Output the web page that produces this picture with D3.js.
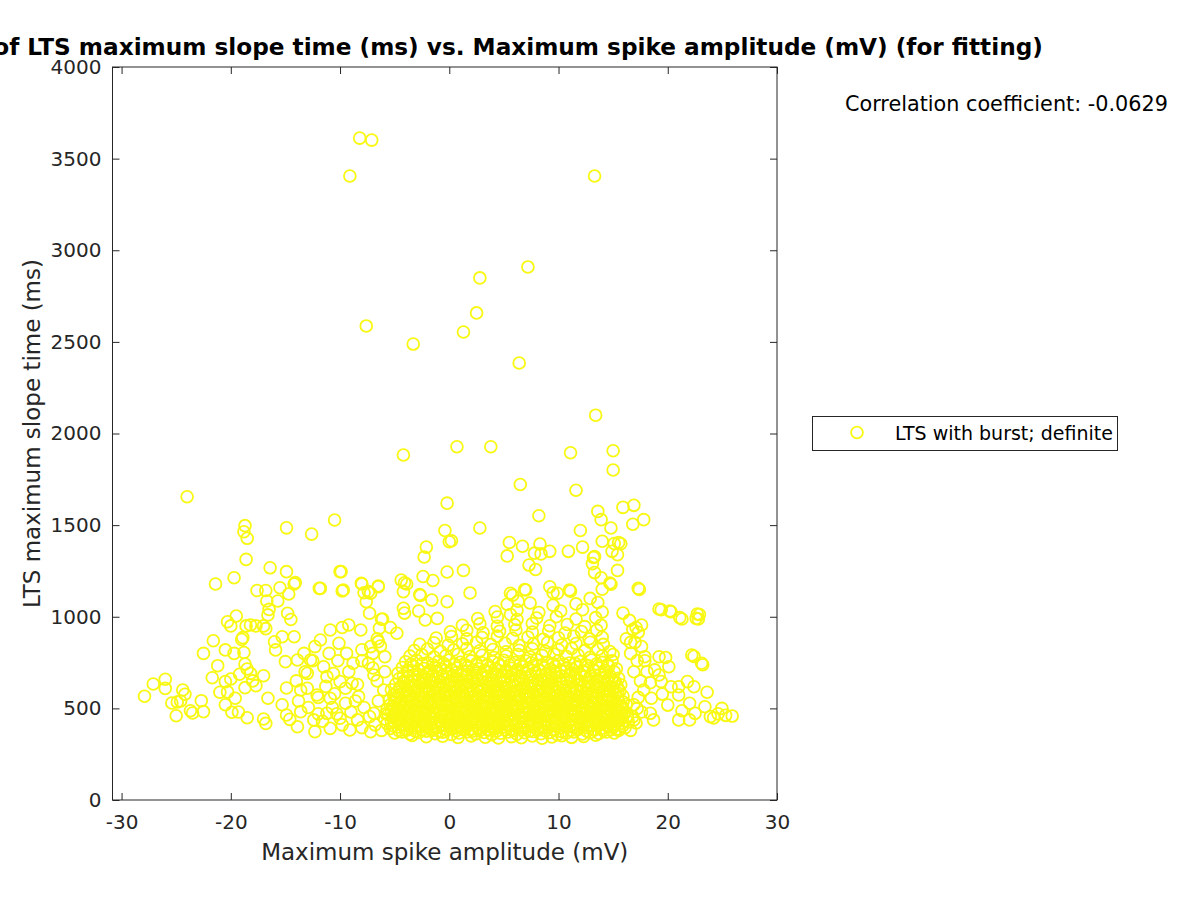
<!DOCTYPE html>
<html>
<head>
<meta charset="utf-8">
<script src="https://cdn.jsdelivr.net/npm/d3@7"></script>
<style>
  body { margin: 0; background: #fff; }
  svg { font-family: "DejaVu Sans", sans-serif; }
</style>
</head>
<body>
<svg width="1200" height="900"></svg>
<script>
// chart labels
var titleText = "Distribution of LTS maximum slope time (ms) vs. Maximum spike amplitude (mV) (for fitting)";
var xLabel = "Maximum spike amplitude (mV)";
var yLabel = "LTS maximum slope time (ms)";
var seriesName = "LTS with burst; definite";
var corrText = "Correlation coefficient: -0.0629";
var xTicks = [-30, -20, -10, 0, 10, 20, 30];
var yTicks = [0, 500, 1000, 1500, 2000, 2500, 3000, 3500, 4000];

// [amplitude mV, slope time ms]
var outliers = [
  [-8.2,3612],[-7.1,3601],[-9.1,3405],[13.3,3405],[2.8,2849],[7.2,2909],[2.5,2658],[1.3,2554],
  [-7.6,2587],[-3.3,2488],[6.4,2385],[13.4,2100],[15.0,1906],[15.0,1801],[11.1,1895],[-4.2,1883],
  [0.7,1928],[3.8,1928],[-24.0,1655],[6.5,1722],[11.6,1690],[-0.2,1620],[8.2,1551],[13.6,1575],
  [13.9,1530],[14.8,1484],[15.9,1597],[16.9,1608],[17.8,1530],[16.8,1505],[-0.4,1471],[2.8,1484],
  [12.0,1471],[0.2,1415],[5.5,1405],[6.7,1385],[8.3,1397],[12.2,1380],[14.0,1412],[15.5,1405],
  [-2.1,1380],[-2.3,1326],[0.0,1409],[-0.2,1244],[-1.5,1198],[-2.4,1220],[5.3,1332],[7.8,1347],
  [8.4,1343],[9.2,1357],[10.9,1357],[13.2,1323],[13.1,1290],[13.3,1241],[13.9,1213],[14.8,1177],
  [14.9,1357],[15.4,1338],[15.1,1400],[15.7,1398],[15.4,1253],[1.3,1253],[1.9,1130],[-0.2,1082],
  [-2.65,1116],[-4.1,1185],[-4.4,1200],[-3.9,1179],[-4.2,1137],[-2.7,1121],[-1.6,1091],[5.8,1117],
  [6.3,1085],[6.9,1149],[5.6,1012],[9.5,1131],[11.1,1140],[7.3,1282],[7.9,1258],[5.6,1128],
  [7.0,1146],[9.2,1164],[9.9,1128],[11.0,1146],[14.7,1184],[13.3,1328],[14.0,1150],[12.9,1100]
];

var leftWing = [
  [-18.7,1497],[-18.8,1464],[-18.5,1428],[-14.9,1485],[-12.6,1451],[-10.5,1528],[-18.6,1313],
  [-16.4,1267],[-14.9,1246],[-21.4,1179],[-19.7,1213],[-14.2,1179],[-11.9,1155],[-10.0,1246],
  [-9.8,1141],[-8.0,1179],[-7.8,1131],[-7.3,1019],[-6.2,986],[-6.5,1164],[-7.2,1128],[-7.6,1082],
  [-17.6,1143],[-16.8,1143],[-15.5,1158],[-14.7,1124],[-15.7,1086],[-16.7,1086],[-16.5,1040],
  [-16.6,1010],[-14.8,1019],[-19.5,1004],[-20.3,973],[-20.0,950],[-18.6,950],[-18.2,955],
  [-17.7,950],[-17.0,950],[-16.8,935],[-18.9,886],[-19.0,876],[-21.6,869],[-22.5,800],[-20.5,819],
  [-19.7,800],[-18.8,805],[-16.0,863],[-15.9,819],[-15.3,891],[-15.0,755],[-21.2,733],[-18.7,742],
  [-18.5,715],[-21.7,667],[-20.5,646],[-20.0,660],[-19.2,686],[-18.2,691],[-18.0,650],[-17.7,624],
  [-17.0,678],[-18.7,613],[-21.0,588],[-20.3,590],[-19.6,555],[-20.5,520],[-19.9,479],[-19.3,480],
  [-18.5,449],[-16.6,555],[-15.3,520],[-14.9,611],[-14.9,464],[-14.6,440],[-17.0,442],[-16.8,418],
  [-26.0,659],[-27.1,633],[-27.9,566],[-26.0,609],[-24.4,600],[-24.2,577],[-25.4,529],[-24.9,535],
  [-24.6,540],[-25.0,460],[-23.7,487],[-23.5,475],[-22.7,542],[-22.5,482],
  [-9.9,1246],[-11.8,1155],[-9.7,1146],[-14.1,1186],[-8.05,1183],[-6.5,1168],[-7.4,1137],
  [-6.1,988],[-6.4,937],[-4.2,1046],[-4.1,1020],[-2.8,1031],[-2.2,982],[-1.1,991],[-4.8,910],
  [-5.4,941],[-9.8,941],[-9.2,955],[-8.1,928],[-10.9,928],[-11.8,873],[-12.3,837],[-13.3,800],
  [-14.2,891],[-14.5,985],[-10.1,855],[-9.4,800],[-7.2,837],[-6.5,864],[-8.0,820],[-8.8,746],
  [-7.4,746],[-11.5,727],[-12.7,764],[-13.9,764],[-13.0,691],[-11.2,673],[-10.0,646],[-8.9,637],
  [-10.6,690],[-13.6,600],[-12.1,573],[-10.9,555],[-9.5,528],[-8.3,564],[-6.9,682],[-5.9,782],
  [-13.6,482],[-12.4,437],[-11.2,473],[-10.0,446],[-8.4,437],[-6.9,473],[-12.3,373],[-13.9,400],
  [-10.9,391],[-9.1,382],[-7.2,373],
  [-13.8,540],[-12.9,505],[-12.0,470],[-11.6,430],[-10.7,505],[-10.3,470],[-9.8,410],[-9.0,480],
  [-8.6,540],[-8.0,395],[-7.8,505],[-7.3,455],[-6.8,410],[-6.5,540],[-6.2,380],[-6.0,600],
  [-5.8,470],[-6.6,650],[-7.0,720],[-8.4,630],[-9.5,610],[-10.5,580],[-11.3,620],[-12.0,560],
  [-13.0,610],[-14.0,650],[-13.2,700],[-12.5,760],[-11.0,800],[-10.2,760],[-9.2,700],[-8.0,760],
  [-7.0,800],[-6.3,840],[-5.9,700],[-6.6,880]
];

var rightWing = [
  [17.3,1155],[19.2,1042],[20.2,1031],[21.1,995],[22.7,1015],[22.6,991],[22.8,988],[22.9,1012],
  [22.2,791],[23.1,746],[22.4,784],[23.2,738],[17.4,1149],[19.4,1038],[20.3,1027],[21.3,988],
  [17.6,955],[17.1,941],[17.3,915],[17.6,837],[16.6,860],[17.9,782],[19.2,782],[19.8,778],
  [20.1,727],[19.2,682],[19.4,646],[20.3,618],[21.0,618],[21.8,646],[22.4,618],[23.6,588],
  [19.5,578],[18.5,555],[21.0,573],[20.0,518],[22.0,528],[23.4,509],[24.95,500],[25.9,458],
  [23.9,455],[22.5,473],[21.3,487],[22.0,437],[21.0,437],[18.7,437],[18.4,473],[17.2,500],
  [16.9,437],[24.6,470],[25.3,462],[24.2,448],
  [16.5,980],[16.8,930],[15.9,1020],[16.2,880],[17.0,860],[16.6,800],[17.2,760],[16.9,700],
  [17.5,650],[17.8,600],[17.3,560],[16.9,520],[17.6,480],[16.8,455],[17.1,420],[16.6,380],
  [18.1,700],[18.4,640],[17.9,760],[18.8,710]
];

var core = [
  [-3.4,352],[-2.1,345],[-0.6,348],[0.8,341],[2.0,350],[3.3,343],[4.5,338],[5.7,346],[6.6,340],[7.6,349],[8.5,337],[9.4,344],[10.3,351],[11.2,342],[12.3,347],[13.4,353],
  [-5.0,366],[-4.3,372],[-3.6,360],[-2.8,368],[-2.1,375],[-1.3,362],[-0.6,370],[0.2,358],[0.9,366],[1.7,373],[2.4,361],[3.2,369],[3.9,357],[4.7,364],[5.4,371],[6.2,359],[6.9,367],[7.7,374],[8.4,362],[9.2,369],[9.9,356],[10.7,365],[11.4,372],[12.2,360],[12.9,368],[13.7,363],[14.4,371],[15.1,366],
  [-5.4,390],[-4.7,398],[-3.9,386],[-3.2,394],[-2.5,401],[-1.7,388],[-1.0,396],[-0.3,384],[0.5,392],[1.2,399],[2.0,387],[2.7,395],[3.5,383],[4.2,391],[5.0,398],[5.7,386],[6.5,394],[7.2,402],[8.0,389],[8.7,397],[9.5,385],[10.2,393],[11.0,400],[11.7,388],[12.5,396],[13.2,384],[14.0,392],[14.7,399],[15.5,387],[16.1,395],
  [-5.7,417],[-5.0,424],[-4.3,412],[-3.5,420],[-2.8,427],[-2.1,414],[-1.3,422],[-0.6,410],[0.2,418],[0.9,425],[1.6,413],[2.4,421],[3.1,428],[3.9,416],[4.6,423],[5.3,411],[6.1,419],[6.8,426],[7.6,414],[8.3,422],[9.1,409],[9.8,417],[10.6,424],[11.3,412],[12.1,420],[12.8,427],[13.6,415],[14.3,423],[15.1,411],[15.8,419],[16.4,426],
  [-5.9,442],[-5.2,450],[-4.5,437],[-3.8,445],[-3.0,452],[-2.3,440],[-1.6,447],[-0.8,435],[-0.1,443],[0.7,451],[1.4,438],[2.2,446],[2.9,453],[3.6,441],[4.4,448],[5.1,436],[5.9,444],[6.6,451],[7.3,439],[8.1,447],[8.8,434],[9.6,442],[10.3,450],[11.1,437],[11.8,445],[12.6,452],[13.3,440],[14.1,448],[14.8,436],[15.6,444],[16.3,451],
  [-5.6,468],[-4.9,476],[-4.1,463],[-3.4,471],[-2.6,478],[-1.9,466],[-1.2,473],[-0.4,461],[0.3,469],[1.1,477],[1.8,464],[2.6,472],[3.3,479],[4.0,467],[4.8,474],[5.5,462],[6.3,470],[7.0,477],[7.8,465],[8.5,473],[9.3,460],[10.0,468],[10.8,476],[11.5,463],[12.3,471],[13.0,478],[13.8,466],[14.5,474],[15.3,462],[16.0,470],
  [-5.7,494],[-5.0,502],[-4.2,489],[-3.5,497],[-2.7,504],[-2.0,492],[-1.2,499],[-0.5,487],[0.2,495],[1.0,503],[1.7,490],[2.5,498],[3.2,505],[4.0,493],[4.7,500],[5.4,488],[6.2,496],[6.9,503],[7.7,491],[8.4,499],[9.2,486],[9.9,494],[10.7,502],[11.4,489],[12.2,497],[12.9,504],[13.7,492],[14.4,500],[15.2,488],[15.9,496],
  [-5.4,520],[-4.6,528],[-3.9,515],[-3.1,523],[-2.4,530],[-1.6,518],[-0.9,525],[-0.1,513],[0.6,521],[1.4,529],[2.1,516],[2.9,524],[3.6,531],[4.4,519],[5.1,526],[5.8,514],[6.6,522],[7.3,529],[8.1,517],[8.8,525],[9.6,512],[10.3,520],[11.1,528],[11.8,515],[12.6,523],[13.3,530],[14.1,518],[14.8,526],[15.6,514],[16.2,522],
  [-5.5,546],[-4.8,554],[-4.0,541],[-3.3,549],[-2.5,556],[-1.8,544],[-1.0,551],[-0.3,539],[0.5,547],[1.2,555],[2.0,542],[2.7,550],[3.5,557],[4.2,545],[5.0,552],[5.7,540],[6.5,548],[7.2,555],[8.0,543],[8.7,551],[9.5,538],[10.2,546],[11.0,554],[11.7,541],[12.5,549],[13.2,556],[14.0,544],[14.7,552],[15.5,540],
  [-5.1,573],[-4.3,581],[-3.6,568],[-2.8,576],[-2.1,583],[-1.3,571],[-0.6,578],[0.2,566],[0.9,574],[1.7,582],[2.4,569],[3.2,577],[3.9,584],[4.7,572],[5.4,579],[6.2,567],[6.9,575],[7.7,582],[8.4,570],[9.2,578],[9.9,565],[10.7,573],[11.4,581],[12.2,568],[12.9,576],[13.7,583],[14.4,571],[15.2,579],[15.9,567],
  [-5.3,601],[-4.5,609],[-3.8,596],[-3.0,604],[-2.3,611],[-1.5,599],[-0.8,606],[0.0,594],[0.7,602],[1.5,610],[2.2,597],[3.0,605],[3.7,612],[4.5,600],[5.2,607],[6.0,595],[6.7,603],[7.5,610],[8.2,598],[9.0,606],[9.7,593],[10.5,601],[11.2,609],[12.0,596],[12.7,604],[13.5,611],[14.2,599],[15.0,607],[15.6,595],
  [-4.9,631],[-4.1,639],[-3.3,626],[-2.5,634],[-1.7,641],[-0.9,629],[-0.1,636],[0.7,624],[1.5,632],[2.3,640],[3.1,627],[3.9,635],[4.7,642],[5.5,630],[6.3,637],[7.1,625],[7.9,633],[8.7,641],[9.5,628],[10.3,636],[11.1,643],[11.9,631],[12.7,638],[13.5,626],[14.3,634],[15.1,641],[15.7,629],
  [-4.6,661],[-3.8,669],[-2.9,656],[-2.1,664],[-1.2,671],[-0.4,659],[0.5,666],[1.3,654],[2.2,662],[3.0,670],[3.9,657],[4.7,665],[5.6,672],[6.4,660],[7.3,667],[8.1,655],[9.0,663],[9.8,671],[10.7,658],[11.5,666],[12.4,673],[13.2,661],[14.1,668],[14.9,656],[15.5,664],
  [-4.7,692],[-3.8,700],[-2.9,687],[-2.0,695],[-1.1,702],[-0.2,690],[0.7,697],[1.6,685],[2.5,693],[3.4,701],[4.3,688],[5.2,696],[6.1,703],[7.0,691],[7.9,698],[8.8,686],[9.7,694],[10.6,702],[11.5,689],[12.4,697],[13.3,704],[14.2,692],[15.1,699],
  [-4.3,723],[-3.3,731],[-2.3,718],[-1.3,726],[-0.3,733],[0.7,721],[1.7,728],[2.7,716],[3.7,724],[4.7,732],[5.7,719],[6.7,727],[7.7,734],[8.7,722],[9.7,729],[10.7,717],[11.7,725],[12.7,733],[13.7,720],[14.6,728],[15.3,716],
  [-4.0,754],[-3.0,762],[-2.0,749],[-1.0,757],[0.0,764],[1.0,752],[2.0,759],[3.0,747],[4.0,755],[5.0,763],[6.0,750],[7.0,758],[8.0,765],[9.0,753],[10.0,760],[11.0,748],[12.0,756],[13.0,764],[14.0,751],[14.9,759],
  [-3.6,785],[-2.5,793],[-1.4,780],[-0.3,788],[0.8,795],[1.9,783],[3.0,790],[4.1,778],[5.2,786],[6.3,794],[7.4,781],[8.5,789],[9.6,796],[10.7,784],[11.8,791],[12.9,779],[14.0,787],[15.0,794],
  [-3.2,816],[-2.0,824],[-0.8,811],[0.4,819],[1.6,826],[2.8,814],[4.0,821],[5.2,809],[6.4,817],[7.6,825],[8.8,812],[10.0,820],[11.2,827],[12.4,815],[13.6,822],[14.7,810],
  [-2.7,850],[-1.4,858],[-0.1,845],[1.2,853],[2.5,860],[3.8,848],[5.1,855],[6.4,843],[7.7,851],[9.0,859],[10.3,846],[11.6,854],[12.9,861],[14.1,849],
  [-1.2,884],[0.2,892],[1.6,879],[3.0,887],[4.4,894],[5.8,882],[7.2,889],[8.6,877],[10.0,885],[11.4,893],[12.8,880],[14.0,888],
  [0.1,918],[1.6,926],[3.1,913],[4.6,921],[6.1,928],[7.6,916],[9.1,923],[10.6,911],[12.1,919],[13.5,927],
  [1.2,953],[2.8,961],[4.4,948],[6.0,956],[7.6,963],[9.2,951],[10.8,958],[12.4,946],[13.9,954],
  [2.6,990],[4.4,998],[6.2,985],[8.0,993],[9.8,1000],[11.6,988],[13.4,995],
  [4.2,1028],[6.2,1036],[8.2,1023],[10.2,1031],[12.2,1038],[14.0,1026],
  [5.3,1068],[7.4,1075],[9.5,1063],[11.6,1070],[13.6,1078]
];

// second, offset layer of the solid part of the cloud
var coreFill = [
  [-4.6,378],[-3.9,381],[-3.1,376],[-2.4,383],[-1.6,379],[-0.9,374],[-0.2,382],[0.6,377],[1.3,384],[2.1,375],[2.8,380],[3.6,385],[4.3,376],[5.1,382],[5.8,378],[6.6,384],[7.3,375],[8.1,381],[8.8,377],[9.6,383],[10.3,374],[11.1,380],[11.8,385],[12.6,376],[13.3,382],[14.1,378],[14.8,384],[15.5,379],
  [-5.1,404],[-4.3,407],[-3.6,402],[-2.8,409],[-2.1,405],[-1.3,400],[-0.6,408],[0.2,403],[0.9,410],[1.6,401],[2.4,406],[3.1,411],[3.9,402],[4.6,408],[5.4,404],[6.1,410],[6.9,401],[7.6,407],[8.4,403],[9.1,409],[9.9,400],[10.6,406],[11.4,411],[12.1,402],[12.9,408],[13.6,404],[14.4,410],[15.1,401],[15.9,406],
  [-5.3,430],[-4.6,433],[-3.9,428],[-3.1,435],[-2.4,431],[-1.6,426],[-0.9,434],[-0.1,429],[0.6,436],[1.4,427],[2.1,432],[2.9,437],[3.6,428],[4.4,434],[5.1,430],[5.9,436],[6.6,427],[7.4,433],[8.1,429],[8.9,435],[9.6,426],[10.4,432],[11.1,437],[11.9,428],[12.6,434],[13.4,430],[14.1,436],[14.9,427],[15.6,432],
  [-5.2,456],[-4.5,459],[-3.7,454],[-3.0,461],[-2.2,457],[-1.5,452],[-0.7,460],[0.0,455],[0.8,462],[1.5,453],[2.3,458],[3.0,463],[3.8,454],[4.5,460],[5.3,456],[6.0,462],[6.8,453],[7.5,459],[8.3,455],[9.0,461],[9.8,452],[10.5,458],[11.3,463],[12.0,454],[12.8,460],[13.5,456],[14.3,462],[15.0,453],[15.8,458],
  [-5.3,482],[-4.5,485],[-3.8,480],[-3.0,487],[-2.3,483],[-1.5,478],[-0.8,486],[-0.1,481],[0.7,488],[1.4,479],[2.2,484],[2.9,489],[3.7,480],[4.4,486],[5.2,482],[5.9,488],[6.7,479],[7.4,485],[8.2,481],[8.9,487],[9.7,478],[10.4,484],[11.2,489],[11.9,480],[12.7,486],[13.4,482],[14.2,488],[14.9,479],[15.6,484],
  [-5.2,508],[-4.4,511],[-3.7,506],[-2.9,513],[-2.2,509],[-1.4,504],[-0.7,512],[0.1,507],[0.8,514],[1.6,505],[2.3,510],[3.1,515],[3.8,506],[4.6,512],[5.3,508],[6.1,514],[6.8,505],[7.6,511],[8.3,507],[9.1,513],[9.8,504],[10.6,510],[11.3,515],[12.1,506],[12.8,512],[13.6,508],[14.3,514],[15.1,505],[15.8,510],
  [-5.0,534],[-4.3,537],[-3.5,532],[-2.8,539],[-2.0,535],[-1.3,530],[-0.5,538],[0.2,533],[1.0,540],[1.7,531],[2.5,536],[3.2,541],[4.0,532],[4.7,538],[5.5,534],[6.2,540],[7.0,531],[7.7,537],[8.5,533],[9.2,539],[10.0,530],[10.7,536],[11.5,541],[12.2,532],[13.0,538],[13.7,534],[14.5,540],[15.2,531],[15.9,536],
  [-4.9,560],[-4.1,563],[-3.4,558],[-2.6,565],[-1.9,561],[-1.1,556],[-0.4,564],[0.4,559],[1.1,566],[1.9,557],[2.6,562],[3.4,567],[4.1,558],[4.9,564],[5.6,560],[6.4,566],[7.1,557],[7.9,563],[8.6,559],[9.4,565],[10.1,556],[10.9,562],[11.6,567],[12.4,558],[13.1,564],[13.9,560],[14.6,566],[15.4,557],
  [-4.8,588],[-4.0,591],[-3.3,586],[-2.5,593],[-1.8,589],[-1.0,584],[-0.3,592],[0.5,587],[1.2,594],[2.0,585],[2.7,590],[3.5,595],[4.2,586],[5.0,592],[5.7,588],[6.5,594],[7.2,585],[8.0,591],[8.7,587],[9.5,593],[10.2,584],[11.0,590],[11.7,595],[12.5,586],[13.2,592],[14.0,588],[14.7,594],[15.4,585],
  [-4.5,617],[-3.7,620],[-2.9,615],[-2.1,622],[-1.3,618],[-0.5,613],[0.3,621],[1.1,616],[1.9,623],[2.7,614],[3.5,619],[4.3,624],[5.1,615],[5.9,621],[6.7,617],[7.5,623],[8.3,614],[9.1,620],[9.9,616],[10.7,622],[11.5,613],[12.3,619],[13.1,624],[13.9,615],[14.7,621],[15.4,617],
  [-4.2,647],[-3.4,650],[-2.5,645],[-1.7,652],[-0.8,648],[0.0,643],[0.9,651],[1.7,646],[2.6,653],[3.4,644],[4.3,649],[5.1,654],[6.0,645],[6.8,651],[7.7,647],[8.5,653],[9.4,644],[10.2,650],[11.1,646],[11.9,652],[12.8,643],[13.6,649],[14.5,654],[15.2,645],
  [-4.2,678],[-3.3,681],[-2.4,676],[-1.5,683],[-0.6,679],[0.3,674],[1.2,682],[2.1,677],[3.0,684],[3.9,675],[4.8,680],[5.7,685],[6.6,676],[7.5,682],[8.4,678],[9.3,684],[10.2,675],[11.1,681],[12.0,686],[12.9,677],[13.8,683],[14.7,679],
  [-3.8,708],[-2.8,711],[-1.8,706],[-0.8,713],[0.2,709],[1.2,704],[2.2,712],[3.2,707],[4.2,714],[5.2,705],[6.2,710],[7.2,715],[8.2,706],[9.2,712],[10.2,708],[11.2,714],[12.2,705],[13.2,711],[14.2,707],
  [-3.5,740],[-2.5,743],[-1.5,738],[-0.5,745],[0.5,741],[1.5,736],[2.5,744],[3.5,739],[4.5,746],[5.5,737],[6.5,742],[7.5,747],[8.5,738],[9.5,744],[10.5,740],[11.5,746],[12.5,737],[13.5,743],[14.5,739]
];

(function () {
  var svg = d3.select("svg");
  var plotLeft = 112.5, plotRight = 777, plotTop = 67, plotBottom = 800;

  var x = d3.scaleLinear().domain([-30.83, 30]).range([plotLeft, plotRight]);
  var y = d3.scaleLinear().domain([0, 4000]).range([plotBottom, plotTop]);

  var markerColor = "#f8f812";
  var points = outliers.concat(leftWing, rightWing, core, coreFill);

  svg.append("g")
    .selectAll("circle")
    .data(points)
    .enter()
    .append("circle")
    .attr("cx", d => x(d[0]))
    .attr("cy", d => y(d[1]))
    .attr("r", 5.9)
    .attr("fill", "none")
    .attr("stroke", markerColor)
    .attr("stroke-width", 1.8);

  // axes, ticks pointing inward like matlab
  var fmt = d => String(d);
  function styleAxis(g) {
    g.attr("font-size", 20).attr("font-family", "DejaVu Sans");
    g.selectAll(".domain").remove();
    g.selectAll("line").attr("stroke", "#262626");
    g.selectAll("text").attr("fill", "#262626");
  }
  svg.append("g")
    .attr("transform", "translate(0," + plotBottom + ")")
    .call(d3.axisBottom(x).tickValues(xTicks).tickSize(-7).tickPadding(15).tickFormat(fmt))
    .call(styleAxis);
  svg.append("g")
    .attr("transform", "translate(0," + plotTop + ")")
    .call(d3.axisTop(x).tickValues(xTicks).tickSize(-7).tickFormat(""))
    .call(styleAxis);
  svg.append("g")
    .attr("transform", "translate(" + plotLeft + ",0)")
    .call(d3.axisLeft(y).tickValues(yTicks).tickSize(-7).tickPadding(11).tickFormat(fmt))
    .call(styleAxis);
  svg.append("g")
    .attr("transform", "translate(" + plotRight + ",0)")
    .call(d3.axisRight(y).tickValues(yTicks).tickSize(-7).tickFormat(""))
    .call(styleAxis);

  svg.append("rect")
    .attr("x", plotLeft).attr("y", plotTop)
    .attr("width", plotRight - plotLeft).attr("height", plotBottom - plotTop)
    .attr("fill", "none").attr("stroke", "#262626").attr("stroke-width", 1);

  svg.append("text")
    .attr("x", 436).attr("y", 55)
    .attr("text-anchor", "middle")
    .attr("font-size", 23.2).attr("font-weight", "bold").attr("fill", "#000")
    .text(titleText);

  svg.append("text")
    .attr("x", (plotLeft + plotRight) / 2).attr("y", 860)
    .attr("text-anchor", "middle")
    .attr("font-size", 23).attr("fill", "#262626")
    .text(xLabel);

  svg.append("text")
    .attr("transform", "translate(40," + (plotTop + plotBottom) / 2 + ") rotate(-90)")
    .attr("text-anchor", "middle")
    .attr("font-size", 23).attr("fill", "#262626")
    .text(yLabel);

  svg.append("text")
    .attr("x", 845).attr("y", 111)
    .attr("font-size", 20.75).attr("fill", "#000")
    .text(corrText);

  // legend
  var legend = svg.append("g");
  legend.append("rect")
    .attr("x", 812.5).attr("y", 416.5).attr("width", 305).attr("height", 34)
    .attr("fill", "#fff").attr("stroke", "#262626").attr("stroke-width", 1);
  legend.append("circle")
    .attr("cx", 857).attr("cy", 432.5).attr("r", 5.9)
    .attr("fill", "none").attr("stroke", markerColor).attr("stroke-width", 1.8);
  legend.append("text")
    .attr("x", 895).attr("y", 440)
    .attr("font-size", 19).attr("fill", "#000")
    .text(seriesName);
})();
</script>
</body>
</html>
